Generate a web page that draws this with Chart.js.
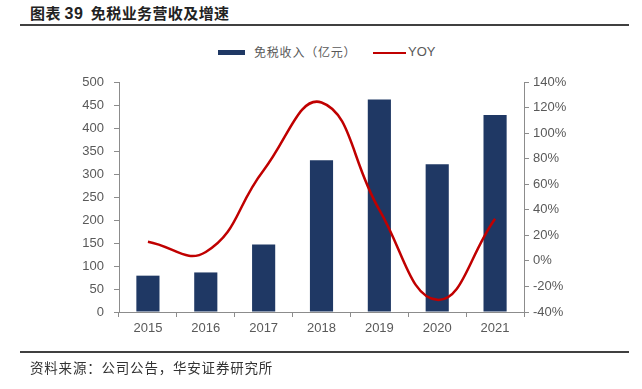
<!DOCTYPE html>
<html>
<head>
<meta charset="utf-8">
<script src="https://cdn.jsdelivr.net/npm/chart.js@4.4.1/dist/chart.umd.min.js"></script>
<style>
  html, body { margin:0; padding:0; background:#fff; }
  #wrap { position:relative; width:642px; height:389px; overflow:hidden; font-family:"Noto Sans CJK SC","Liberation Sans",sans-serif; }
  #title { position:absolute; left:30px; top:2px; font-size:15px; font-weight:bold; color:#222; white-space:nowrap; letter-spacing:0.4px; }
  #title .num { font-family:"Liberation Sans",Arial,sans-serif; font-size:16px; }
  #rule1 { position:absolute; left:20px; top:24px; width:609px; height:2px; background:#404040; }
  #rule2 { position:absolute; left:20px; top:351px; width:609px; height:1.5px; background:#404040; }
  #source { position:absolute; left:30px; top:357px; font-size:13.5px; color:#333; white-space:nowrap; letter-spacing:0.8px; }
  #legend { position:absolute; top:43px; left:218px; height:18px; font-size:12px; color:#595959; white-space:nowrap; }
  #legend .item { position:absolute; top:0; line-height:18px; }
  #legend .sw { position:absolute; }
  canvas { position:absolute; left:0; top:0; }
</style>
</head>
<body>
<div id="wrap">
  <div id="title">图表 <span class="num">39</span>&nbsp; 免税业务营收及增速</div>
  <div id="rule1"></div>
  <div id="legend">
    <div class="sw" style="left:0;top:7px;width:27px;height:5px;background:#1f3864;"></div>
    <div class="item" style="left:36px;letter-spacing:0.8px;">免税收入（亿元）</div>
    <div class="sw" style="left:155px;top:8.5px;width:33px;height:2px;background:#c00000;"></div>
    <div class="item" style="left:190px;font-family:'Liberation Sans',Arial,sans-serif;font-size:13px;">YOY</div>
  </div>
  <canvas id="c" width="642" height="389"></canvas>
  <div id="rule2"></div>
  <div id="source">资料来源：公司公告，华安证券研究所</div>
</div>
<script>
const years = ['2015','2016','2017','2018','2019','2020','2021'];
const revenue = [79, 86, 147, 330, 462, 321, 428];
const yoy = [15, 7, 71, 124, 40, -30.5, 33];
const leftTicks = [0, 50, 100, 150, 200, 250, 300, 350, 400, 450, 500];
const rightTicks = [-40, -20, 0, 20, 40, 60, 80, 100, 120, 140];

const axisColor = '#8c8c8c';
const tickFont = { family: "'Liberation Sans', Arial, sans-serif", size: 13 };
const tickColor = '#595959';

new Chart(document.getElementById('c'), {
  data: {
    labels: years,
    datasets: [
      {
        type: 'line', label: 'YOY', data: yoy, yAxisID: 'y1',
        borderColor: '#c00000', borderWidth: 2.5, pointRadius: 0,
        cubicInterpolationMode: 'default', tension: 0.45, fill: false, order: 0
      },
      {
        type: 'bar', label: '免税收入（亿元）', data: revenue, yAxisID: 'y',
        backgroundColor: '#1f3864', borderWidth: 0,
        barPercentage: 1, categoryPercentage: 0.4, order: 1
      }
    ]
  },
  options: {
    responsive: false, animation: false,
    layout: { padding: { left: 0, right: 0, top: 82, bottom: 0 } },
    plugins: { legend: { display: false }, tooltip: { enabled: false } },
    scales: {
      x: {
        offset: true,
        grid: { offset: true, drawOnChartArea: false, drawTicks: true, tickLength: 5, color: axisColor, lineWidth: 1 },
        border: { display: true, color: axisColor, width: 1 },
        ticks: { font: tickFont, color: tickColor, padding: 4, maxRotation: 0 },
        afterFit: s => { s.height = 389 - 312; }
      },
      y: {
        position: 'left', min: 0, max: 500,
        afterBuildTicks: s => { s.ticks = leftTicks.map(v => ({ value: v })); },
        grid: { drawOnChartArea: false, drawTicks: true, tickLength: 5, color: axisColor },
        border: { display: true, color: axisColor, width: 1 },
        ticks: { font: tickFont, color: tickColor, padding: 10 },
        afterFit: s => { s.width = 119; }
      },
      y1: {
        position: 'right', min: -40, max: 140,
        afterBuildTicks: s => { s.ticks = rightTicks.map(v => ({ value: v })); },
        grid: { drawOnChartArea: false, drawTicks: true, tickLength: 5, color: axisColor },
        border: { display: true, color: axisColor, width: 1 },
        ticks: { font: tickFont, color: tickColor, padding: 4, callback: v => v + '%' },
        afterFit: s => { s.width = 642 - 524; }
      }
    }
  }
});
</script>
</body>
</html>
